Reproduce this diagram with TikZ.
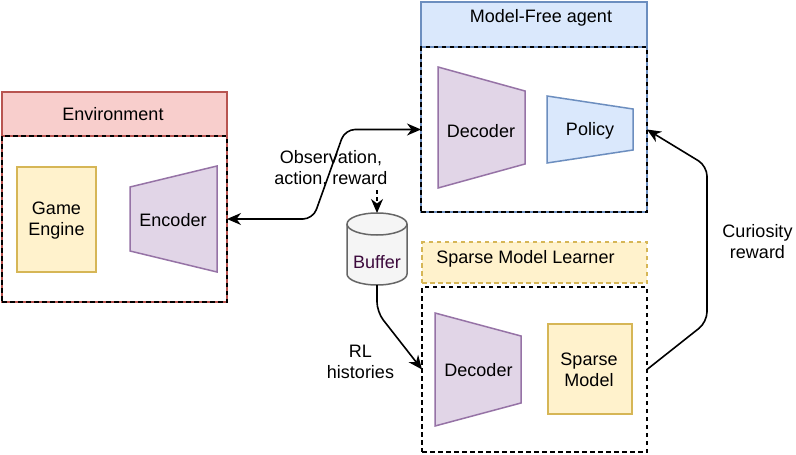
\documentclass[tikz,border=0pt]{standalone}
\usepackage{fontspec}
\setmainfont{Liberation Sans}
\usetikzlibrary{arrows.meta}
\definecolor{redfill}{HTML}{F8CECC}
\definecolor{redline}{HTML}{B85450}
\definecolor{yelfill}{HTML}{FFF2CC}
\definecolor{yelline}{HTML}{D6B656}
\definecolor{purfill}{HTML}{E1D5E7}
\definecolor{purline}{HTML}{9673A6}
\definecolor{blufill}{HTML}{DAE8FC}
\definecolor{bluline}{HTML}{6C8EBF}
\definecolor{grayfill}{HTML}{F5F5F5}
\definecolor{grayline}{HTML}{666666}
\definecolor{buftext}{HTML}{3D0A3D}
\tikzset{
  txt/.style={font=\fontsize{18}{21}\selectfont, align=center, inner sep=0pt, outer sep=0pt},
  box/.style={draw, line width=1.5pt, inner sep=0pt, outer sep=0pt},
  dbox/.style={draw=black, line width=1.5pt, dash pattern=on 4.5pt off 3.5pt, inner sep=0pt, outer sep=0pt},
  shp/.style={line width=1.5pt},
  conn/.style={line width=1.6pt, rounded corners=10pt},
}
\begin{document}
\begin{tikzpicture}[x=1pt,y=-1pt,>={Stealth[length=14pt,width=12pt,inset=4.5pt]}]
\useasboundingbox (0,0) rectangle (796,455);
\fill[white] (0,0) rectangle (796,455);

% Environment
\draw[shp, draw=redline] (2,92) rectangle (227,302);
\node[box, draw=redline, fill=redfill, minimum width=225pt, minimum height=44pt] (envhead) at (114.5,114) {};
\node[txt, anchor=base] (envtitle) at (113,120) {Environment};
\node[dbox, minimum width=225pt, minimum height=166pt] (envbody) at (114.5,219) {};
\node[box, draw=yelline, fill=yelfill, minimum width=79pt, minimum height=105pt] (game) at (56.5,219.5) {};
\node[txt] (gametxt) at (56.5,221) {Game\\Engine};
\draw[shp, draw=purline, fill=purfill] (130,187) -- (217,166) -- (217,272) -- (130,251) -- cycle;
\node[txt, anchor=base] (enc) at (173,226) {Encoder};

% Model-Free agent
\draw[shp, draw=bluline] (421,2) rectangle (647,212);
\node[box, draw=bluline, fill=blufill, minimum width=226pt, minimum height=45pt] (mfhead) at (534,24.5) {};
\node[txt, anchor=base] (mftitle) at (541,23) {Model-Free agent};
\node[dbox, minimum width=226pt, minimum height=165pt] (mfbody) at (534,129.5) {};
\draw[shp, draw=purline, fill=purfill] (438,67) -- (525,91) -- (525,164) -- (438,188) -- cycle;
\node[txt, anchor=base] (dec1) at (481,137) {Decoder};
\draw[shp, draw=bluline, fill=blufill] (547,96) -- (633,109) -- (633,150) -- (547,163) -- cycle;
\node[txt, anchor=base] (pol) at (590,135) {Policy};

% Sparse Model Learner
\node[dbox, draw=yelline, fill=yelfill, minimum width=225pt, minimum height=41pt] (smhead) at (534.5,262.5) {};
\node[txt, anchor=base] (smtitle) at (525.5,263) {Sparse Model Learner};
\node[dbox, minimum width=225pt, minimum height=165pt] (smbody) at (534.5,369.5) {};
\draw[shp, draw=purline, fill=purfill] (435,313) -- (521,336) -- (521,403) -- (435,426) -- cycle;
\node[txt, anchor=base] (dec2) at (478.5,376) {Decoder};
\node[box, draw=yelline, fill=yelfill, minimum width=84pt, minimum height=90pt] (spm) at (590,369) {};
\node[txt] (spmtxt) at (589,369.5) {Sparse\\Model};

% Buffer
\draw[shp, draw=grayline, fill=grayfill] (347,224) -- (347,274)
  arc[start angle=180, end angle=360, x radius=30pt, y radius=11pt] -- (407,224)
  arc[start angle=0, end angle=180, x radius=30pt, y radius=11pt] -- cycle;
\draw[shp, draw=grayline] (347,224) arc[start angle=180, end angle=360, x radius=30pt, y radius=11pt];
\node[minimum width=60pt, minimum height=72pt, inner sep=0pt, outer sep=0pt] (buffer) at (377,249) {};
\node[txt, anchor=base, text=buftext] (buftxt) at (377,268) {Buffer};

% Connectors
\draw[conn, <->] (envbody.east) -- (313,219) -- (345,129.5) -- (mfbody.west);
\node[txt] (obslabel) at (331,168.5) {Observation,\\action, reward};
\coordinate (obsdrop) at (377,190);
\draw[line width=1.6pt, dash pattern=on 4pt off 3pt, ->] (obsdrop) -- (buffer.north);

\draw[conn, ->] (buffer.south) -- (377,312) -- (smbody.west);
\node[txt] (rllabel) at (360.5,362) {RL\\histories};

\draw[conn, ->] (smbody.east) -- (707,322) -- (707,166) -- (mfbody.east);
\node[txt] (curlabel) at (757.5,242) {Curiosity\\reward};
\end{tikzpicture}
\end{document}
